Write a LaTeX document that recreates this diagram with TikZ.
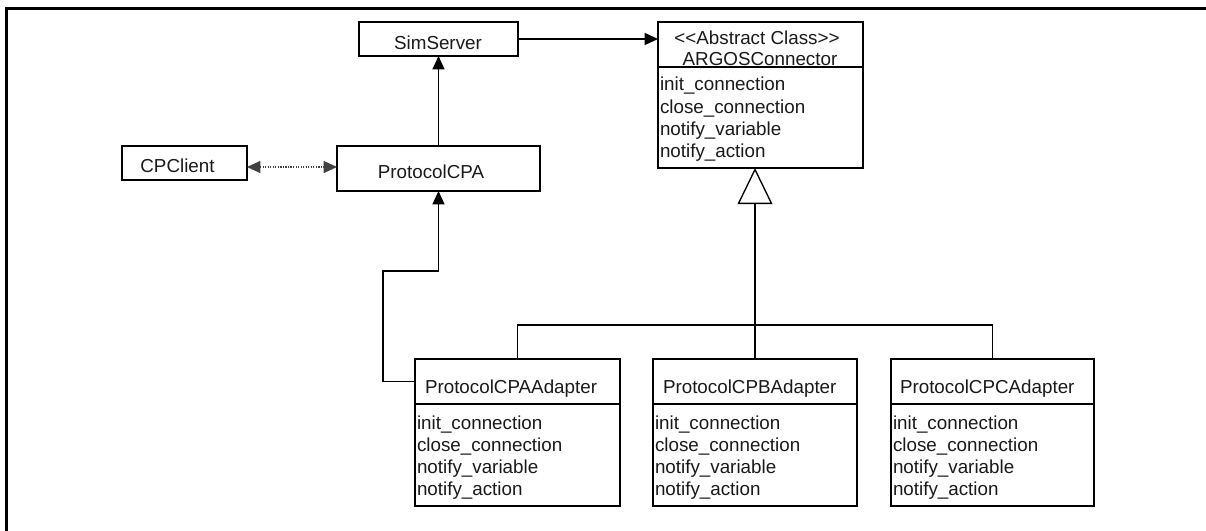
\documentclass[tikz,border=0pt]{standalone}
\usepackage{fontspec}
\setmainfont{Liberation Sans}
\usetikzlibrary{arrows.meta}
\newcommand\umlbox[5]{\node[box, minimum width=#4*0.75pt, minimum height=#5*0.75pt] (#1) at (#2,#3) {};}
\begin{document}
\begin{tikzpicture}[x=0.75pt,y=-0.75pt,
  box/.style={draw, line width=1pt, inner sep=0pt, outer sep=0pt, anchor=north west},
  lbl/.style={inner sep=0pt, outer sep=0pt, text=black!90, font=\fontsize{14.1}{16}\selectfont},
  arr/.style={line width=1pt, -{Triangle[length=10pt,width=9pt]}},
  dotarr/.style={line width=0.9pt, black!75, densely dotted, {Triangle[length=10pt,width=9pt]}-{Triangle[length=10pt,width=9pt]}},
  gen/.style={line width=1pt, -{Triangle[open, length=27pt, width=26pt]}},
  bus/.style={line width=1pt},
  frame/.style={line width=2pt}]
\useasboundingbox (0,0) rectangle (1206,531);
% outer frame (top and left edges visible)
\draw[frame] (6.7,531) -- (6.7,8.7) -- (1206,8.7);

% boxes
\umlbox{SimServer}{359}{22}{159}{34}
\umlbox{CPClient}{122}{146}{125}{34}
\umlbox{ProtocolCPA}{337}{146}{203}{45}
\umlbox{argosHead}{658}{22}{205}{45}
\umlbox{argosBody}{658}{67}{205}{101}
\umlbox{pcaHead}{415}{359}{205}{45}
\umlbox{pcaBody}{415}{404}{205}{102}
\umlbox{pcbHead}{653}{359}{204}{45}
\umlbox{pcbBody}{653}{404}{204}{102}
\umlbox{pccHead}{891}{359}{203}{45}
\umlbox{pccBody}{891}{404}{203}{102}

% labels
\node[lbl, anchor=base] (tSim) at (438,50) {SimServer};
\node[lbl, anchor=base] (tCPC) at (177.5,173) {CPClient};
\node[lbl, anchor=base] (tPCA) at (431,179) {ProtocolCPA};
\node[lbl, anchor=base] (tAbs) at (757,45) {<\kern0pt<Abstract Class>\kern0pt>};
\node[lbl, anchor=base] (tArg) at (760,66) {ARGOSConnector};
\node[lbl, anchor=base west] (tA) at (425,393) {ProtocolCPAAdapter};
\node[lbl, anchor=base west] (tB) at (663,393) {ProtocolCPBAdapter};
\node[lbl, anchor=base west] (tC) at (900,393) {ProtocolCPCAdapter};

\foreach \nm/\bx/\by in {arg/660/91, pa/417/429, pb/655/429, pc/893/429}{
  \foreach \t [count=\i] in {init\_connection, close\_connection, notify\_variable, notify\_action}{
    \node[lbl, anchor=base west] (\nm m\i) at (\bx, \by+22.3*\i-22.3) {\t};
  }
}

% connectors
\draw[arr] (SimServer.east) -- (SimServer.east -| argosHead.west);
\draw[arr] (ProtocolCPA.north) -- (SimServer.south);
\draw[dotarr] ([yshift=-3pt]CPClient.east) -- ([yshift=-3pt]CPClient.east -| ProtocolCPA.west);
\coordinate (bendA) at (383,271);
\draw[arr] (pcaHead.west) -| (bendA) -| (ProtocolCPA.south);
\draw[gen] (pcbHead.north) -- (pcbHead.north |- argosBody.south);
\coordinate (busY) at (0,325);
\draw[bus] (pcaHead.north) |- (pccHead.north |- busY) -- (pccHead.north);
\end{tikzpicture}
\end{document}
